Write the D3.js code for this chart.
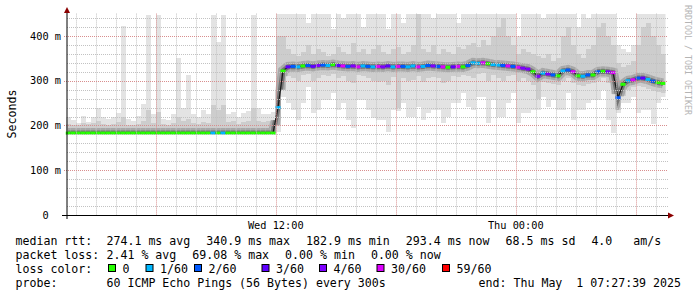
<!DOCTYPE html>
<html lang="en">
<head>
<meta charset="UTF-8" />
<title>Smokeping latency</title>
<style>
  body { margin: 0; background: #fff; }
  svg { display: block; font-family: "DejaVu Sans Mono", monospace; }
  text { white-space: pre; }
</style>
</head>
<body>
<svg id="chart" width="697" height="297"></svg>
<script src="https://d3js.org/d3.v7.min.js"></script>
<script>
// time window (UTC) and bin size
const startTime = Date.UTC(2025, 3, 30, 1, 27, 39);
const endTime = Date.UTC(2025, 4, 1, 7, 27, 39);
const binMinutes = 15;

// median rtt per 15 min bin (ms)
const medianMs = [
  183, 183, 183, 183, 183, 183, 183, 183, 183, 183,
  183, 183, 183, 183, 183, 183, 183, 183, 183, 183,
  183, 183, 183, 183, 183, 183, 183, 183, 183, 183,
  183, 183, 183, 183, 183, 183, 183, 183, 183, 183,
  183, 183, 240, 322, 331, 332, 331, 333, 334, 332,
  334, 335, 334, 336, 334, 333, 332, 333, 331, 333,
  332, 331, 332, 331, 333, 331, 332, 332, 331, 333,
  331, 332, 334, 333, 332, 331, 330, 331, 332, 331,
  334, 340, 339, 340, 338, 336, 335, 334, 333, 332,
  330, 328, 326, 320, 310, 317, 315, 313, 311, 322,
  324, 320, 311, 310, 313, 313, 320, 321, 320, 318,
  262, 292, 300, 302, 306, 306, 303, 299, 296, 294
];

// lost pings out of 60 per bin
const lossCount = [
  0, 0, 0, 0, 0, 0, 0, 0, 0, 0,
  0, 0, 0, 0, 0, 0, 0, 0, 0, 0,
  0, 0, 0, 0, 0, 0, 0, 0, 0, 1,
  0, 1, 0, 0, 0, 0, 0, 0, 0, 0,
  0, 0, 1, 0, 3, 2, 1, 0, 2, 3,
  4, 2, 1, 0, 3, 30, 2, 4, 30, 1,
  2, 1, 30, 4, 3, 1, 30, 2, 1, 1,
  30, 1, 2, 4, 2, 30, 0, 3, 30, 0,
  2, 1, 1, 30, 0, 1, 1, 2, 30, 2,
  30, 4, 4, 0, 4, 1, 4, 2, 0, 1,
  2, 30, 0, 1, 2, 0, 2, 0, 4, 30,
  2, 0, 1, 30, 2, 3, 1, 2, 0, 0
];

// smoke: lowest ping, inner low, inner high, highest ping (ms)
const smokeMin = [
  182, 182, 182, 182, 182, 182, 182, 182, 182, 182,
  182, 182, 182, 182, 182, 182, 182, 182, 182, 182,
  182, 182, 182, 182, 182, 182, 182, 182, 182, 182,
  182, 182, 182, 182, 182, 182, 182, 182, 182, 182,
  182, 182, 185, 264, 250, 235, 212, 250, 287, 228,
  235, 257, 257, 272, 235, 250, 212, 194, 257, 257,
  235, 216, 212, 212, 186, 235, 232, 250, 220, 220,
  242, 212, 228, 235, 235, 205, 220, 250, 250, 272,
  242, 235, 264, 264, 205, 257, 220, 220, 250, 272,
  205, 228, 228, 235, 235, 264, 242, 257, 235, 235,
  272, 212, 235, 235, 250, 257, 257, 280, 212, 183,
  228, 250, 250, 264, 228, 235, 235, 203, 250, 264
];
const smokeLo = [
  183, 183, 183, 183, 183, 183, 183, 183, 183, 183,
  183, 183, 183, 183, 183, 183, 183, 183, 183, 183,
  183, 183, 183, 183, 183, 183, 183, 183, 183, 183,
  183, 183, 183, 183, 183, 183, 183, 183, 183, 183,
  183, 183, 200, 280, 310, 305, 300, 312, 315, 300,
  305, 312, 310, 315, 305, 310, 300, 295, 312, 310,
  305, 300, 298, 300, 290, 308, 240, 305, 300, 302,
  310, 298, 305, 308, 305, 295, 300, 310, 308, 312,
  310, 305, 315, 318, 300, 312, 305, 300, 310, 312,
  300, 305, 300, 290, 260, 298, 295, 292, 290, 300,
  305, 295, 290, 288, 292, 295, 300, 305, 295, 270,
  235, 265, 280, 285, 288, 285, 282, 278, 275, 272
];
const smokeHi = [
  204, 202, 200, 206, 203, 205, 210, 204, 202, 204,
  207, 220, 202, 201, 204, 210, 235, 206, 230, 203,
  201, 205, 220, 209, 214, 206, 204, 208, 205, 245,
  235, 245, 207, 209, 204, 208, 210, 240, 211, 208,
  209, 212, 400, 400, 370, 360, 355, 365, 380, 360,
  370, 365, 355, 360, 375, 365, 360, 385, 365, 370,
  360, 372, 380, 365, 360, 370, 375, 360, 365, 380,
  450, 370, 365, 380, 360, 370, 365, 360, 375, 370,
  380, 385, 375, 390, 380, 400, 420, 440, 400, 380,
  360, 370, 365, 360, 355, 350, 360, 345, 350, 400,
  420, 380, 360, 350, 370, 380, 420, 430, 400, 380,
  340, 330, 335, 345, 380, 420, 430, 400, 380, 360
];
const smokeMax = [
  220, 212, 205, 222, 208, 218, 240, 220, 215, 220,
  228, 422, 215, 210, 222, 248, 447, 225, 447, 215,
  212, 225, 350, 240, 313, 225, 218, 235, 225, 447,
  387, 447, 225, 230, 220, 228, 232, 447, 238, 225,
  225, 230, 450, 450, 450, 450, 450, 450, 430, 450,
  450, 450, 450, 415, 450, 440, 450, 450, 450, 420,
  450, 450, 450, 450, 415, 450, 450, 430, 450, 450,
  450, 450, 450, 440, 450, 450, 450, 450, 430, 450,
  450, 450, 450, 450, 450, 450, 450, 450, 450, 450,
  400, 450, 450, 450, 450, 440, 450, 450, 450, 450,
  450, 450, 420, 450, 440, 450, 450, 450, 450, 450,
  380, 370, 365, 380, 450, 450, 450, 450, 450, 450
];

const yTicks = [0, 100, 200, 300, 400];
const yTickLabels = ['0  ', '100 m', '200 m', '300 m', '400 m'];

const lossSteps = [1, 2, 3, 4, 30, 59];
const lossLabels = ['0', '1/60', '2/60', '3/60', '4/60', '30/60', '59/60'];
const lossColors = ['#26ff00', '#00b8ff', '#0059ff', '#5e00ff', '#7e00ff', '#dd00ff', '#ff0000'];

const rttLegend = ['274.1 ms avg', '340.9 ms max', '182.9 ms min', '293.4 ms now', '68.5 ms sd', '4.0   am/s'];
const lossLegend = ['2.41 % avg', '69.08 % max', '0.00 % min', '0.00 % now'];
const probeText = '60 ICMP Echo Pings (56 Bytes) every 300s';
const endText = 'end: Thu May  1 07:27:39 2025';

// ---- layout
const plotLeft = 65.5, plotRight = 665.5, plotTop = 13.6, plotBottom = 215;
const svg = d3.select('#chart');

const x = d3.scaleUtc().domain([startTime, endTime]).range([plotLeft, plotRight]);
const y = d3.scaleLinear().domain([0, 450]).range([plotBottom, plotTop]);
const lossColor = d3.scaleThreshold().domain(lossSteps).range(lossColors);

const binMs = binMinutes * 60 * 1000;
const bins = medianMs.map((m, i) => ({
  t0: new Date(startTime + i * binMs),
  t1: new Date(startTime + (i + 1) * binMs),
  tc: new Date(startTime + (i + 0.5) * binMs),
  median: m,
  loss: lossCount[i],
  min: smokeMin[i],
  lo: smokeLo[i],
  hi: smokeHi[i],
  max: smokeMax[i]
}));

const defs = svg.append('defs');
defs.append('clipPath').attr('id', 'plot-clip')
  .append('rect').attr('x', plotLeft).attr('y', plotTop)
  .attr('width', plotRight - plotLeft).attr('height', plotBottom - plotTop);
defs.append('clipPath').attr('id', 'mid-clip')
  .selectAll('rect').data(bins).join('rect')
  .attr('x', d => x(d.t0)).attr('width', d => x(d.t1) - x(d.t0))
  .attr('y', d => y(d.hi)).attr('height', d => y(d.lo) - y(d.hi));

const plot = svg.append('g').attr('clip-path', 'url(#plot-clip)');

// smoke
plot.append('g').attr('shape-rendering', 'crispEdges')
  .selectAll('rect').data(bins).join('rect')
  .attr('x', d => x(d.t0)).attr('width', d => x(d.t1) - x(d.t0))
  .attr('y', d => y(d.max)).attr('height', d => y(d.min) - y(d.max))
  .attr('fill', '#e3e3e3');
plot.append('g').attr('shape-rendering', 'crispEdges')
  .selectAll('rect').data(bins).join('rect')
  .attr('x', d => x(d.t0)).attr('width', d => x(d.t1) - x(d.t0))
  .attr('y', d => y(d.hi)).attr('height', d => y(d.lo) - y(d.hi))
  .attr('fill', '#cdcdcd');

const medLine = d3.line().x(d => x(d.tc)).y(d => y(d.median));
const halo = plot.append('g').attr('clip-path', 'url(#mid-clip)');
halo.append('path').datum(bins).attr('d', medLine)
  .attr('fill', 'none').attr('stroke', '#a8a8a8').attr('stroke-width', 10);
halo.append('path').datum(bins).attr('d', medLine)
  .attr('fill', 'none').attr('stroke', '#747474').attr('stroke-width', 5);

// grid
const grid = svg.append('g').attr('fill', 'none').attr('stroke-dasharray', '1,1');
const minorY = d3.range(20, 450, 20).filter(v => v % 100 !== 0);
const majorY = d3.range(100, 450, 100);
const hours = d3.utcHour.every(1).range(new Date(startTime), new Date(endTime));
const minorX = hours.filter(h => h.getUTCHours() % 6 !== 0);
const majorX = hours.filter(h => h.getUTCHours() % 6 === 0);
const px = v => Math.round(v) + 0.5;

grid.selectAll('line.my').data(minorY).join('line')
  .attr('x1', 67).attr('x2', 668).attr('y1', d => px(y(d))).attr('y2', d => px(y(d)))
  .attr('stroke', '#c2c2c2');
grid.selectAll('line.mx').data(minorX).join('line')
  .attr('y1', plotTop).attr('y2', plotBottom)
  .attr('x1', d => px(x(d) - 0.5)).attr('x2', d => px(x(d) - 0.5))
  .attr('stroke', '#c2c2c2');
grid.selectAll('line.My').data(majorY).join('line')
  .attr('x1', 64).attr('x2', 668).attr('y1', d => px(y(d))).attr('y2', d => px(y(d)))
  .attr('stroke', '#d88e8e');
grid.selectAll('line.Mx').data(majorX).join('line')
  .attr('y1', plotTop).attr('y2', plotBottom)
  .attr('x1', d => px(x(d) - 0.5)).attr('x2', d => px(x(d) - 0.5))
  .attr('stroke', '#d88e8e');

// median line + loss colours
plot.append('path').datum(bins).attr('d', medLine)
  .attr('fill', 'none').attr('stroke', '#1a1a1a').attr('stroke-width', 1.3);
plot.append('g').selectAll('rect').data(bins).join('rect')
  .attr('x', d => x(d.t0)).attr('width', d => x(d.t1) - x(d.t0))
  .attr('y', d => y(d.median) - 1.5).attr('height', 3)
  .attr('fill', d => lossColor(d.loss));

// axes
const axisCol = '#000';
svg.append('line').attr('x1', 62).attr('x2', 669).attr('y1', 215.5).attr('y2', 215.5)
  .attr('stroke', axisCol);
svg.append('line').attr('x1', 67).attr('x2', 67).attr('y1', 219).attr('y2', 12)
  .attr('stroke', axisCol);
svg.append('path').attr('d', 'M668,212.5L674,215.5L668,218.5Z').attr('fill', '#8b0000');
svg.append('path').attr('d', 'M64,13L67,7L70,13Z').attr('fill', '#8b0000');

svg.append('g').attr('font-size', '10.3px').attr('fill', '#000')
  .selectAll('text').data(yTicks).join('text')
  .attr('x', 61).attr('y', d => y(d)).attr('dy', '0.36em')
  .attr('text-anchor', 'end')
  .text((d, i) => yTickLabels[i]);

const xLabels = hours.filter(h => h.getUTCHours() % 12 === 0);
svg.append('g').attr('font-size', '10.3px').attr('fill', '#000')
  .selectAll('text').data(xLabels).join('text')
  .attr('x', d => x(d) - 0.5).attr('y', 228.5)
  .attr('text-anchor', 'middle')
  .text(d3.utcFormat('%a %H:%M'));

svg.append('text').attr('transform', 'translate(15.5,114) rotate(-90)')
  .attr('text-anchor', 'middle').attr('font-size', '11.6px').text('Seconds');

svg.append('text').attr('transform', 'translate(685,5) rotate(90)')
  .attr('font-size', '8.3px').attr('fill', '#b4b4b4').text('RRDTOOL / TOBI OETIKER');

// legend
const leg = svg.append('g').attr('font-size', '11.6px').attr('fill', '#000');
const labelX = 15.5, valueX = 106.5, itemGap = 16;

function flowRow(items, baseline) {
  let cx = valueX;
  items.forEach(s => {
    const t = leg.append('text').attr('x', cx).attr('y', baseline).text(s);
    cx += t.node().getComputedTextLength() + itemGap;
  });
}

leg.append('text').attr('x', labelX).attr('y', 245).text('median rtt:');
flowRow(rttLegend, 245);
leg.append('text').attr('x', labelX).attr('y', 259).text('packet loss:');
flowRow(lossLegend, 259);

leg.append('text').attr('x', labelX).attr('y', 273).text('loss color:');
const boxX = [108, 145.5, 194, 261.5, 319, 376.5, 442];
lossLabels.forEach((lab, i) => {
  leg.append('rect').attr('x', boxX[i] + 0.5).attr('y', 264.5).attr('width', 7).attr('height', 7)
    .attr('fill', lossColors[i]).attr('stroke', '#000');
  leg.append('text').attr('x', boxX[i] + 14.5).attr('y', 273).text(lab);
});

leg.append('text').attr('x', labelX).attr('y', 287).text('probe:');
leg.append('text').attr('x', valueX).attr('y', 287).text(probeText);
leg.append('text').attr('x', 681).attr('y', 287).attr('text-anchor', 'end').text(endText);
</script>
</body>
</html>
